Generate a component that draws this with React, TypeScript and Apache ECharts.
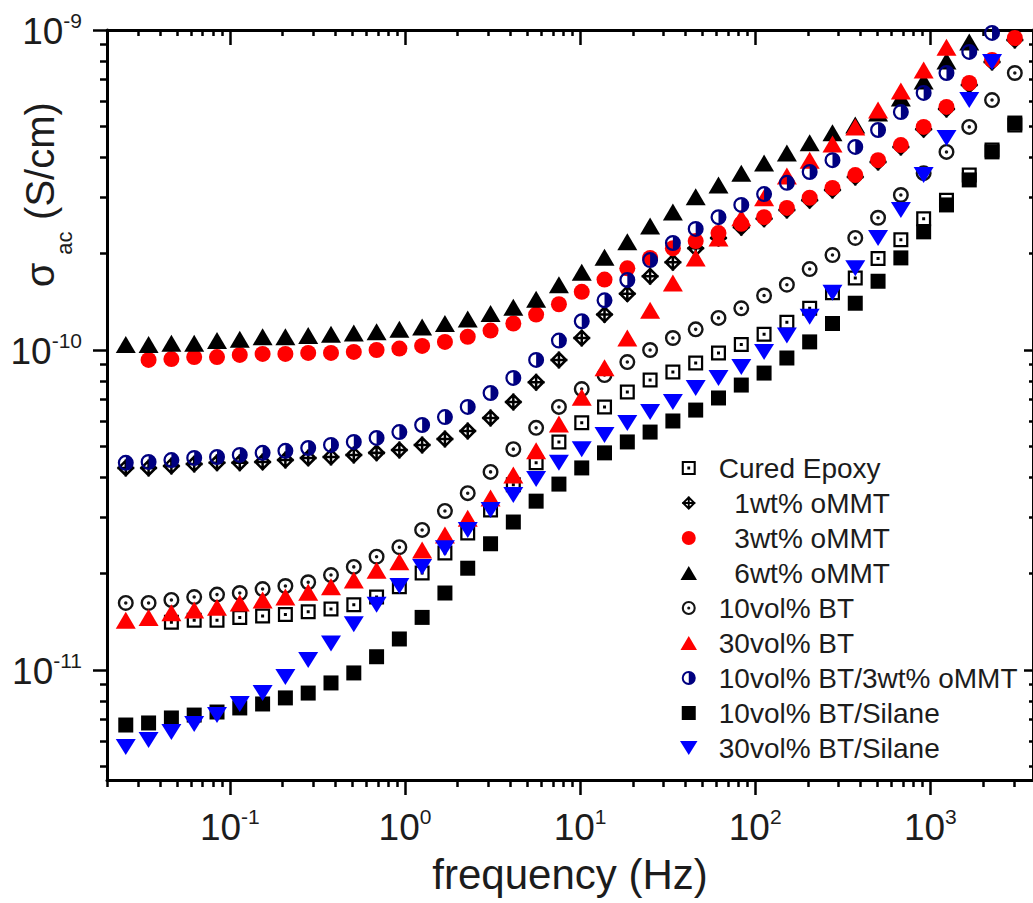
import React, { useEffect, useRef } from 'react';
import * as echarts from 'echarts';

// measurement frequencies (Hz)
const FREQ = [0.02544, 0.03434, 0.04635, 0.06256, 0.08444, 0.1139, 0.1538, 0.2075, 0.2801, 0.378,
  0.5102, 0.6884, 0.9288, 1.253, 1.691, 2.282, 3.081, 4.157, 5.61, 7.571,
  10.22, 13.79, 18.61, 25.11, 33.88, 45.73, 61.72, 83.29, 112.4, 151.7,
  204.7, 276.3, 372.8, 503.1, 679.0, 916.3, 1237, 1669, 2252, 3039];

// sigma_ac (S/cm), aligned with FREQ (null = no point)
const CURED_EPOXY = [null, null, 1.41e-11, 1.43e-11, 1.43e-11, 1.46e-11, 1.475e-11, 1.49e-11, 1.52e-11, 1.55e-11,
  1.60e-11, 1.69e-11, 1.82e-11, 2.01e-11, 2.32e-11, 2.68e-11, 3.16e-11, 3.79e-11, 4.44e-11, 5.16e-11,
  5.92e-11, 6.64e-11, 7.39e-11, 8.06e-11, 8.54e-11, 9.11e-11, 9.79e-11, 1.04e-10, 1.12e-10, 1.22e-10,
  1.35e-10, 1.51e-10, 1.68e-10, 1.93e-10, 2.21e-10, 2.57e-10, 2.94e-10, 3.52e-10, 4.22e-10, 5.05e-10];
const OMMT_1WT = [4.28e-11, 4.28e-11, 4.34e-11, 4.40e-11, 4.44e-11, 4.44e-11, 4.47e-11, 4.53e-11, 4.60e-11, 4.63e-11,
  4.70e-11, 4.77e-11, 4.87e-11, 5.05e-11, 5.27e-11, 5.58e-11, 6.13e-11, 6.88e-11, 7.93e-11, 9.31e-11,
  1.09e-10, 1.29e-10, 1.50e-10, 1.70e-10, 1.88e-10, 2.08e-10, 2.24e-10, 2.42e-10, 2.57e-10, 2.74e-10,
  2.94e-10, 3.16e-10, 3.47e-10, 3.87e-10, 4.31e-10, 4.90e-10, 5.66e-10, 6.73e-10, 7.94e-10, 9.31e-10];
const OMMT_3WT = [null, 9.31e-11, 9.37e-11, 9.50e-11, 9.50e-11, 9.65e-11, 9.72e-11, 9.72e-11, 9.79e-11, 9.79e-11,
  9.86e-11, 1.00e-10, 1.01e-10, 1.03e-10, 1.06e-10, 1.10e-10, 1.15e-10, 1.21e-10, 1.29e-10, 1.39e-10,
  1.52e-10, 1.66e-10, 1.80e-10, 1.94e-10, 2.08e-10, 2.19e-10, 2.32e-10, 2.48e-10, 2.60e-10, 2.78e-10,
  2.99e-10, 3.21e-10, 3.52e-10, 3.92e-10, 4.37e-10, 4.98e-10, 5.75e-10, 6.83e-10, 8.06e-10, 9.44e-10];
const OMMT_6WT = [1.04e-10, 1.04e-10, 1.05e-10, 1.05e-10, 1.07e-10, 1.08e-10, 1.10e-10, 1.10e-10, 1.11e-10, 1.12e-10,
  1.13e-10, 1.14e-10, 1.16e-10, 1.18e-10, 1.21e-10, 1.25e-10, 1.30e-10, 1.36e-10, 1.44e-10, 1.60e-10,
  1.75e-10, 1.95e-10, 2.18e-10, 2.44e-10, 2.70e-10, 3.01e-10, 3.28e-10, 3.57e-10, 3.84e-10, 4.13e-10,
  4.44e-10, 4.77e-10, 5.05e-10, 5.50e-10, 6.13e-10, 6.93e-10, 8.00e-10, 9.17e-10];
const BT_10VOL = [1.62e-11, 1.62e-11, 1.655e-11, 1.69e-11, 1.72e-11, 1.74e-11, 1.79e-11, 1.83e-11, 1.88e-11, 1.98e-11,
  2.10e-11, 2.26e-11, 2.42e-11, 2.74e-11, 3.14e-11, 3.57e-11, 4.16e-11, 4.90e-11, 5.71e-11, 6.64e-11,
  7.55e-11, 8.35e-11, 9.17e-11, 1.00e-10, 1.09e-10, 1.16e-10, 1.26e-10, 1.35e-10, 1.48e-10, 1.60e-10,
  1.79e-10, 1.98e-10, 2.24e-10, 2.59e-10, 3.05e-10, 3.57e-10, 4.16e-10, 4.98e-10, 6.04e-10, 7.34e-10];
const BT_30VOL = [1.43e-11, 1.46e-11, 1.51e-11, 1.54e-11, 1.57e-11, 1.62e-11, 1.655e-11, 1.69e-11, 1.75e-11, 1.82e-11,
  1.91e-11, 2.05e-11, 2.18e-11, 2.37e-11, 2.64e-11, 2.98e-11, 3.45e-11, 4.07e-11, 4.84e-11, 5.87e-11,
  7.12e-11, 8.80e-11, 1.09e-10, 1.33e-10, 1.62e-10, 1.94e-10, 2.24e-10, 2.59e-10, 2.99e-10, 3.50e-10,
  3.92e-10, 4.40e-10, 4.98e-10, 5.62e-10, 6.45e-10, 7.50e-10, 8.84e-10];
const BT10_OMMT3 = [4.44e-11, 4.47e-11, 4.53e-11, 4.60e-11, 4.63e-11, 4.70e-11, 4.77e-11, 4.84e-11, 4.94e-11, 5.05e-11,
  5.16e-11, 5.31e-11, 5.54e-11, 5.83e-11, 6.17e-11, 6.64e-11, 7.34e-11, 8.18e-11, 9.31e-11, 1.07e-10,
  1.23e-10, 1.43e-10, 1.655e-10, 1.91e-10, 2.16e-10, 2.39e-10, 2.60e-10, 2.84e-10, 3.07e-10, 3.33e-10,
  3.60e-10, 3.92e-10, 4.31e-10, 4.87e-10, 5.54e-10, 6.36e-10, 7.34e-10, 8.54e-10, 9.79e-10];
const BT10_SILANE = [6.73e-12, 6.83e-12, 7.08e-12, 7.23e-12, 7.39e-12, 7.61e-12, 7.83e-12, 8.18e-12, 8.47e-12, 9.11e-12,
  9.79e-12, 1.10e-11, 1.25e-11, 1.46e-11, 1.74e-11, 2.08e-11, 2.48e-11, 2.90e-11, 3.37e-11, 3.81e-11,
  4.28e-11, 4.77e-11, 5.16e-11, 5.54e-11, 6.00e-11, 6.49e-11, 7.08e-11, 7.77e-11, 8.47e-11, 9.44e-11,
  1.06e-10, 1.21e-10, 1.40e-10, 1.64e-10, 1.94e-10, 2.34e-10, 2.84e-10, 3.40e-10, 4.16e-10, 5.12e-10];
const BT30_SILANE = [5.75e-12, 6.04e-12, 6.40e-12, 6.78e-12, 7.23e-12, 7.83e-12, 8.47e-12, 9.50e-12, 1.075e-11, 1.21e-11,
  1.39e-11, 1.60e-11, 1.83e-11, 2.10e-11, 2.40e-11, 2.74e-11, 3.16e-11, 3.52e-11, 3.95e-11, 4.44e-11,
  4.90e-11, 5.42e-11, 5.91e-11, 6.40e-11, 6.88e-11, 7.61e-11, 8.18e-11, 8.85e-11, 9.86e-11, 1.11e-10,
  1.27e-10, 1.51e-10, 1.80e-10, 2.24e-10, 2.74e-10, 3.52e-10, 4.60e-10, 6.04e-10, 7.94e-10];

const SERIES_NAMES = ['Cured Epoxy', '\u00a0\u00a01wt% oMMT', '\u00a0\u00a03wt% oMMT', '\u00a0\u00a06wt% oMMT',
  '10vol% BT', '30vol% BT', '10vol% BT/3wt% oMMT', '10vol% BT/Silane', '30vol% BT/Silane'];

// axis decades (log10 of frequency / conductivity)
const X_DECADES = [-1, 0, 1, 2, 3];
const Y_DECADES = [-11, -10, -9];
const X_RANGE = [-1.7017, 3.5865];
const Y_RANGE = [-11.3438, -9];

const SYM_OPEN_SQUARE = 'path://M0,0 H100 V100 H0 Z M15,15 V85 H85 V15 Z M40,40 H60 V60 H40 Z';
const SYM_CROSS_DIAMOND = 'path://M50,0 L100,50 L50,100 L0,50 Z M50,20 L20,50 L50,80 L80,50 Z M43,3 H57 V97 H43 Z M3,43 H97 V57 H3 Z';
const SYM_HALF_CIRCLE = 'path://M50,0 A50,50 0 1,1 50,100 A50,50 0 1,1 50,0 Z M50,14 A36,36 0 1,0 50,86 A36,36 0 1,0 50,14 Z M50,14 A36,36 0 0,1 50,86 Z';
const SYM_DOT_CIRCLE = 'path://M50,0 A50,50 0 1,1 50,100 A50,50 0 1,1 50,0 Z M50,15 A35,35 0 1,0 50,85 A35,35 0 1,0 50,15 Z M50,39 A11,11 0 1,1 50,61 A11,11 0 1,1 50,39 Z';
const SYM_UP_TRI = 'path://M50,0 L100,85 L0,85 Z';
const SYM_DOWN_TRI = 'path://M0,0 L100,0 L50,80 Z';
const SYM_SQUARE = 'path://M0,0 H100 V100 H0 Z';
const SYM_DISC = 'path://M50,0 A50,50 0 1,1 50,100 A50,50 0 1,1 50,0 Z';

const FONT = '"Liberation Sans", Arial, Helvetica, sans-serif';
const TXT = '#1c1c1c';

function minorTicks(lo: number, hi: number) {
  const out: number[] = [];
  for (let n = Math.floor(lo); n <= Math.ceil(hi); n++) {
    for (let k = 2; k <= 9; k++) {
      const v = n + Math.log10(k);
      if (v > lo && v < hi) out.push(v);
    }
  }
  return out;
}

function toData(vals: (number | null)[]) {
  const out: number[][] = [];
  vals.forEach((v, i) => {
    if (v != null && i < FREQ.length) out.push([Math.log10(FREQ[i]), Math.log10(v)]);
  });
  return out;
}

const labelRich = {
  b: { fontSize: 37, lineHeight: 40, fontFamily: FONT, color: TXT, verticalAlign: 'bottom' },
  s: { fontSize: 21, lineHeight: 22, fontFamily: FONT, color: TXT, verticalAlign: 'top' },
};
const fmt = (v: number) => `{b|10}{s|${Math.round(v)}}`;

function makeAxis(position: string, range: number[], ticks: number[], len: number, inside: boolean,
  showLine: boolean, labels: number[] | null, margin = 0) {
  return {
    type: 'value',
    position,
    min: range[0],
    max: range[1],
    splitLine: { show: false },
    axisLine: { show: showLine, onZero: false, lineStyle: { color: '#000', width: 3 } },
    axisTick: { show: true, inside, length: len, customValues: ticks, lineStyle: { color: '#000', width: 2.5 } },
    axisLabel: labels
      ? { show: true, customValues: labels, formatter: fmt, rich: labelRich, margin }
      : { show: false },
  };
}

export default function App() {
  const ref = useRef<HTMLDivElement>(null);
  useEffect(() => {
    if (!ref.current) return;
    const chart = echarts.init(ref.current, null, { renderer: 'svg' });
    const xMinor = minorTicks(X_RANGE[0], X_RANGE[1]);
    const yMinor = minorTicks(Y_RANGE[0], Y_RANGE[1]);

    const xAxes: any[] = [
      makeAxis('bottom', X_RANGE, X_DECADES, 15, false, true, X_DECADES, 26),
      makeAxis('bottom', X_RANGE, xMinor, 7, false, false, null),
      makeAxis('top', X_RANGE, X_DECADES, 15, true, true, null),
      makeAxis('top', X_RANGE, xMinor, 6, true, false, null),
    ];
    xAxes[0].name = 'frequency (Hz)';
    xAxes[0].nameLocation = 'middle';
    xAxes[0].nameGap = 73;
    xAxes[0].nameTextStyle = { fontSize: 42, fontFamily: FONT, color: TXT };

    const yAxes: any[] = [
      makeAxis('left', Y_RANGE, Y_DECADES, 14, false, true, Y_DECADES, 25),
      makeAxis('left', Y_RANGE, yMinor, 7, false, false, null),
      makeAxis('right', Y_RANGE, Y_DECADES, 9, true, true, null),
      makeAxis('right', Y_RANGE, yMinor, 4, true, false, null),
    ];

    const seriesDefs = [
      { vals: CURED_EPOXY, symbol: SYM_OPEN_SQUARE, size: 15, color: '#000' },
      { vals: OMMT_1WT, symbol: SYM_CROSS_DIAMOND, size: 18, color: '#000' },
      { vals: OMMT_3WT, symbol: SYM_DISC, size: 16, color: '#ff0000' },
      { vals: OMMT_6WT, symbol: SYM_UP_TRI, size: [20, 17], color: '#000' },
      { vals: BT_10VOL, symbol: SYM_DOT_CIRCLE, size: 16, color: '#151515' },
      { vals: BT_30VOL, symbol: SYM_UP_TRI, size: [20, 17], color: '#ff0000' },
      { vals: BT10_OMMT3, symbol: SYM_HALF_CIRCLE, size: 16, color: '#000080' },
      { vals: BT10_SILANE, symbol: SYM_SQUARE, size: 15, color: '#000' },
      { vals: BT30_SILANE, symbol: SYM_DOWN_TRI, size: [20, 16], color: '#0000ff' },
    ];

    chart.setOption({
      animation: false,
      backgroundColor: '#fff',
      grid: { left: 107, top: 30, width: 927, height: 750 },
      xAxis: xAxes,
      yAxis: yAxes,
      legend: {
        orient: 'vertical',
        left: 680,
        top: 453,
        padding: 0,
        itemWidth: 50,
        itemHeight: 14,
        itemGap: 5,
        selectedMode: false,
        symbolKeepAspect: true,
        textStyle: { fontSize: 28, lineHeight: 30, fontFamily: FONT, color: TXT },
        data: SERIES_NAMES.map((n, i) => ({ name: n, icon: seriesDefs[i].symbol })),
      },
      graphic: [
        { type: 'text', x: 40, y: 161, rotation: Math.PI / 2,
          style: { text: '(S/cm)', font: `40px ${FONT}`, fill: TXT, align: 'center', verticalAlign: 'middle' } },
        { type: 'text', x: 64, y: 243, rotation: Math.PI / 2,
          style: { text: 'ac', font: `22px ${FONT}`, fill: TXT, align: 'center', verticalAlign: 'middle' } },
        { type: 'text', x: 40, y: 275, rotation: Math.PI / 2,
          style: { text: 'σ', font: `40px ${FONT}`, fill: TXT, align: 'center', verticalAlign: 'middle' } },
      ],
      series: seriesDefs.map((d, i) => ({
        type: 'scatter',
        name: SERIES_NAMES[i],
        xAxisIndex: 0,
        yAxisIndex: 0,
        symbol: d.symbol,
        symbolSize: d.size,
        symbolKeepAspect: false,
        itemStyle: { color: d.color, opacity: 1 },
        emphasis: { disabled: true },
        data: toData(d.vals),
      })),
    });
    return () => chart.dispose();
  }, []);
  return <div ref={ref} style={{ position: 'absolute', left: 0, top: 0, width: 1033, height: 903 }} />;
}
